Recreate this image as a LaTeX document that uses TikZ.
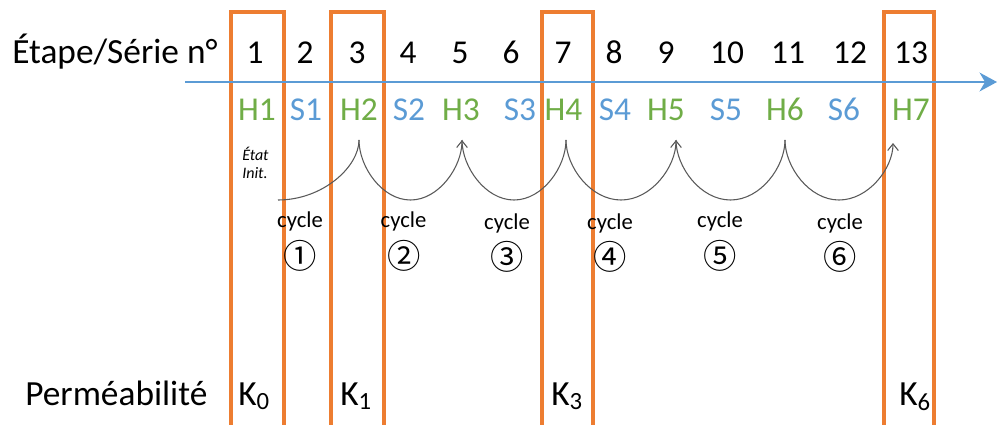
\documentclass[tikz,border=0pt]{standalone}
\usepackage{fontspec}
\setmainfont{Carlito}
\newfontfamily\symfont{Noto Sans CJK SC}
\usetikzlibrary{arrows.meta}
\definecolor{orng}{HTML}{ED7D31}
\definecolor{axblue}{HTML}{5B9BD5}
\definecolor{hgreen}{HTML}{70AD47}
\definecolor{arcgray}{HTML}{595959}
\begin{document}
\begin{tikzpicture}[x=0.75pt,y=-0.75pt,
  numlbl/.style={font=\fontsize{25}{30}\selectfont, anchor=base, inner sep=0pt},
  hlbl/.style={numlbl, text=hgreen},
  slbl/.style={numlbl, text=axblue},
  titlelbl/.style={font=\fontsize{26.5}{32}\selectfont, anchor=base west, inner sep=0pt},
  cyclbl/.style={font=\fontsize{17}{20}\selectfont, anchor=base, inner sep=0pt},
  circlbl/.style={font=\symfont\fontsize{25}{28}\selectfont, anchor=center, inner sep=0pt},
  smalllbl/.style={font=\itshape\fontsize{12}{14}\selectfont, anchor=base west, inner sep=0pt},
  klbl/.style={font=\fontsize{26.5}{32}\selectfont, anchor=base west, inner sep=0pt},
  orngbox/.style={draw=orng, line width=2.3pt},
  arcline/.style={draw=arcgray, line width=0.8pt},
  arctip/.style={arcline, -{Straight Barb[length=5pt,width=8pt]}}
]
\useasboundingbox (0,0) rectangle (997,425);

% orange boxes
\draw[orngbox] (231,425) -- (231,12) -- (284,12) -- (284,425);
\draw[orngbox] (331,425) -- (331,12) -- (384,12) -- (384,425);
\draw[orngbox] (542,425) -- (542,12) -- (593,12) -- (593,425);
\draw[orngbox] (884,425) -- (884,12) -- (934,12) -- (934,425);

% axis
\coordinate (axs) at (185,82);
\coordinate (axe) at (997,82);
\draw[axblue, line width=2pt, -{Stealth[length=13pt,width=14pt,inset=4pt]}] (axs) -- (axe);

% titles
\node[titlelbl] (ttl) at (12,63) {Étape/Série n°};
\node[titlelbl] (perm) at (25,405) {Perméabilité};

% step numbers
\node[numlbl] (n1) at (255,63) {1};
\node[numlbl] (n2) at (305,63) {2};
\node[numlbl] (n3) at (357,63) {3};
\node[numlbl] (n4) at (408,63) {4};
\node[numlbl] (n5) at (460,63) {5};
\node[numlbl] (n6) at (511,63) {6};
\node[numlbl] (n7) at (563,63) {7};
\node[numlbl] (n8) at (614,63) {8};
\node[numlbl] (n9) at (666,63) {9};
\node[numlbl] (n10) at (727,63) {10};
\node[numlbl] (n11) at (788,63) {11};
\node[numlbl] (n12) at (850,63) {12};
\node[numlbl] (n13) at (911,63) {13};

% H / S labels
\node[hlbl] (h1) at (257,120) {H1};
\node[slbl] (s1) at (306,120) {S1};
\node[hlbl] (h2) at (359,120) {H2};
\node[slbl] (s2) at (409,120) {S2};
\node[hlbl] (h3) at (461,120) {H3};
\node[slbl] (s3) at (520,120) {S3};
\node[hlbl] (h4) at (563.5,120) {H4};
\node[slbl] (s4) at (615,120) {S4};
\node[hlbl] (h5) at (666,120) {H5};
\node[slbl] (s5) at (726,120) {S5};
\node[hlbl] (h6) at (785,120) {H6};
\node[slbl] (s6) at (844,120) {S6};
\node[hlbl] (h7) at (911,120) {H7};

% initial state
\node[smalllbl] (etat) at (242,160) {État};
\node[smalllbl] (init) at (242,178) {Init.};

% arc path
\coordinate (p0) at (278,200);
\coordinate (p1) at (359,140);
\coordinate (p2) at (462,140);
\coordinate (p3) at (566,140);
\coordinate (p4) at (676,140);
\coordinate (p5) at (785,140);
\coordinate (p6) at (893,143);
\draw[arcline] (p0) .. controls (322.7,200) and (359,166.9) .. (p1);
\draw[arctip] (p1) .. controls (359,166.9) and (382.1,200) .. (410.5,200)
  .. controls (438.9,200) and (462,166.9) .. (p2);
\draw[arcline] (p2) .. controls (462,166.9) and (485.3,200) .. (514,200)
  .. controls (542.7,200) and (566,166.9) .. (p3);
\draw[arctip] (p3) .. controls (566,166.9) and (590.6,200) .. (621,200)
  .. controls (651.4,200) and (676,166.9) .. (p4);
\draw[arcline] (p4) .. controls (676,166.9) and (700.4,200) .. (730.5,200)
  .. controls (760.6,200) and (785,166.9) .. (p5);
\draw[arctip] (p5) .. controls (785,166.9) and (809.2,200) .. (839,200)
  .. controls (868.8,200) and (893,168) .. (p6);

% cycle labels
\node[cyclbl] (c1) at (300,227) {cycle};
\node[cyclbl] (c2) at (403.5,227) {cycle};
\node[cyclbl] (c3) at (507,229) {cycle};
\node[cyclbl] (c4) at (610,229) {cycle};
\node[cyclbl] (c5) at (720,227) {cycle};
\node[cyclbl] (c6) at (840,229) {cycle};
\node[circlbl] (o1) at (300,256) {①};
\node[circlbl] (o2) at (404,256) {②};
\node[circlbl] (o3) at (507.5,257) {③};
\node[circlbl] (o4) at (610,257) {④};
\node[circlbl] (o5) at (720,256) {⑤};
\node[circlbl] (o6) at (840,257) {⑥};

% permeability
\node[klbl] (k0) at (238,405) {K\textsubscript{0}};
\node[klbl] (k1) at (340,405) {K\textsubscript{1}};
\node[klbl] (k3) at (551,405) {K\textsubscript{3}};
\node[klbl] (k6) at (899,405) {K\textsubscript{6}};
\end{tikzpicture}
\end{document}
